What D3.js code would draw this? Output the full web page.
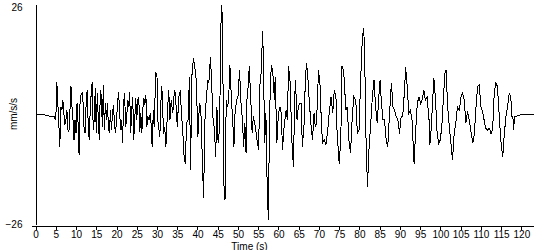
<!DOCTYPE html>
<html>
<head>
<meta charset="utf-8">
<script src="https://cdn.jsdelivr.net/npm/d3@7"></script>
<style>
  body { margin: 0; background: #fff; }
  text { font-family: "Liberation Sans", Arial, sans-serif; font-size: 10px; fill: #000; }
</style>
</head>
<body>
<div class="trace"></div>
<script>
// seconds
var time = [
  0, 1, 2, 2.5, 4.6,
  5, 5.25, 5.5, 5.75, 6, 6.25, 6.5, 6.75, 7, 7.25, 7.5, 7.75, 8, 8.25, 8.5, 8.75,
  9, 9.25, 9.5, 9.75, 10, 10.25, 10.5, 10.75, 11, 11.25, 11.5, 11.75, 12, 12.25, 12.5, 12.75,
  13, 13.25, 13.5, 13.75, 14, 14.25, 14.5, 14.75, 15, 15.25, 15.5, 15.75, 16, 16.25, 16.5, 16.75,
  17, 17.25, 17.5, 17.75, 18, 18.25, 18.5, 18.75, 19, 19.25, 19.5, 19.75, 20, 20.25, 20.5, 20.75,
  21, 21.25, 21.5, 21.75, 22, 22.25, 22.5, 22.75, 23, 23.25, 23.5, 23.75, 24, 24.25, 24.5, 24.75,
  25, 25.25, 25.5, 25.75, 26, 26.25, 26.5, 26.75, 27, 27.25, 27.5, 27.75, 28,
  28.4, 28.8, 29.1, 29.3, 29.7, 30, 30.2, 30.7, 31.1, 31.3, 31.6, 31.9, 32.2, 32.6, 32.9,
  33.2, 33.5, 33.9, 34.2, 34.4, 34.8, 35, 35.4, 35.8, 36, 36.3, 36.7, 37, 37.3, 37.7,
  38, 38.3, 38.6, 39, 39.3, 39.7, 40.1, 40.5, 40.8, 41.1, 41.5, 41.9, 42.2, 42.5, 42.8,
  43.2, 43.5, 43.8, 44.2, 44.5, 44.8, 45.1, 45.5, 45.7, 46, 46.2, 46.5, 46.8, 47.1, 47.4,
  47.7, 48, 48.4, 48.7, 49, 49.3, 49.7, 50, 50.4, 50.7, 51.1, 51.4, 51.7, 52, 52.2,
  52.4, 52.8, 53.2, 53.5, 53.8, 54.3, 54.6, 55.1, 55.4, 55.7, 56.1, 56.3, 56.6, 56.9, 57.2,
  57.5, 57.7, 58, 58.3, 58.7, 59, 59.2, 59.6, 60, 60.4, 60.7, 61, 61.4, 61.9, 62.2,
  62.5, 62.9, 63.3, 63.7, 64, 64.2, 64.6, 64.9, 65.3, 65.6, 65.9, 66.3, 66.6, 66.9, 67.2,
  67.6, 68, 68.4, 68.8, 69.1, 69.4, 69.9, 70.3, 70.6, 70.9, 71.3, 71.7, 72.1, 72.6, 73,
  73.4, 73.8, 74.2, 74.5, 75, 75.4, 75.7, 76, 76.3, 76.6, 77, 77.4, 77.8, 78.2, 78.6,
  79.1, 79.5, 79.9, 80.3, 80.7, 81, 81.3, 81.5, 81.8, 82, 82.3, 82.8, 83.2, 83.6, 84,
  84.4, 84.8, 85.1, 85.4, 85.8, 86.2, 86.6, 87, 87.4, 87.9, 88.3, 88.7, 89.1, 89.5, 89.9,
  90.3, 90.7, 91.2, 91.4, 91.8, 92.2, 92.6, 93, 93.5, 93.9, 94.3, 94.7, 95.1, 95.5, 95.9,
  96.3, 96.7, 97.2, 97.4, 97.7, 98.1, 98.4, 98.8, 99.2, 99.6, 100, 100.4, 100.8, 101.2, 101.4,
  101.8, 102.2, 102.6, 103, 103.4, 103.8, 104.2, 104.7, 105.1, 105.5, 105.9, 106.3, 106.7, 107.1, 107.5,
  108, 108.4, 108.8, 109.2, 109.6, 110, 110.4, 110.8, 111.2, 111.6, 112.1, 112.5, 112.9, 113.3, 113.7,
  114.1, 114.5, 114.9, 115.4, 115.8, 116.2, 116.6, 117, 117.4, 117.6, 117.9, 118.1, 118.3, 118.9, 119.8,
  121, 123
];

// mm/s/s
var accel = [
  0, 0, 0, -0.4, -0.6,
  -1.5, 7.6, 2.5, -2.2, -7.7, 1.7, 0.9, 3.3, 0.2, -2.6, -1.4, 0.9, -3.8, -4.2, 0.9, 6.5,
  1.7, -1.4, -6.1, -1.4, -4.6, 2.5, -2.2, -9.7, 3.3, 4.5, 4.9, 2.5, -3.8, -4.6, 2.5, 5.7,
  -2.2, -6.1, 0.9, 4.9, 7.6, -3.8, -1.4, 6.1, -4.6, 4.9, -1.4, -6.1, 5.7, 4.1, -3.0, 6.9,
  -3.8, 2.5, -1.4, 2.5, -3.0, -4.6, 0.9, -3.8, 0.2, 2.1, -2.2, -4.6, -1.4, 2.5, 5.3, 0.9,
  -3.8, -1.4, -6.9, 2.5, 4.9, -3.0, -1.4, 3.3, 1.7, 5.3, -4.6, 0.9, 4.1, -6.1, -1.4, 3.7,
  -1.4, 3.3, 4.1, -4.2, 0.2, -4.6, 1.3, 3.7, 2.1, 4.5, -3.0, -0.6, -1.4,
  0.2, -7.7, 0.9, -3.0, 10.0, 8.8, -1.4, -5.4, 6.5, 4.9, -4.6, -3.0, -7.7, 0.9, 5.7,
  -1.4, 3.3, 0.2, 4.1, 5.7, 0.9, -3.0, 4.1, 5.7, 0.2, -3.0, -10.1, -11.7, -2.2, -1.4,
  8.8, -13.2, 8.8, 13.2, 11.3, 8.0, -5.4, 2.5, 1.7, -7.7, -19.9, 0.9, 3.3, 8.0, 7.3,
  13.5, 7.3, -0.6, -3.8, -10.1, 1.7, -6.9, -3.0, 19.1, 25.8, 19.9, -16.4, -20.3, 3.3, 1.7,
  3.3, 11.6, 3.3, -1.4, -7.7, 0.9, 3.3, 4.1, 10.4, 3.3, -1.4, -7.7, -2.2, -9.3, 3.3,
  4.9, 11.3, 2.5, -4.6, -0.6, -3.0, -5.4, -8.5, 6.5, 9.6, 19.5, 11.3, -6.9, 0.2, -16.4,
  -25.0, -9.3, 8.0, 11.5, 8.8, 3.3, 8.8, -6.9, 0.2, 1.7, 0.2, -8.5, -3.0, 0.9, -1.4,
  11.3, 7.3, -6.1, -12.5, 3.3, 8.0, -1.4, 1.7, 2.5, 2.5, -7.7, -3.0, 6.5, 12.0, 9.6,
  3.3, -2.2, -6.1, 0.2, -3.0, -2.2, 10.4, 6.5, -2.2, -6.9, -6.1, -7.3, -4.6, 0.9, 4.1,
  0.2, 5.7, 4.1, -4.6, -11.7, -6.1, 11.3, 10.4, 8.0, 0.9, 1.7, -6.1, -9.3, -1.4, 4.1,
  3.3, -4.6, -3.8, 8.0, 17.5, 20.3, 15.9, -1.4, -11.7, -17.2, -9.3, -2.2, 4.1, 8.0, 1.7,
  -2.2, 4.1, 8.0, 3.3, -1.4, -1.4, -6.1, -7.7, -0.6, 7.3, 1.7, 0.9, -0.6, -1.4, -4.6,
  -0.6, -0.6, 6.5, 11.2, 6.5, 0.2, 0.9, -1.4, -11.7, -3.8, 2.5, 4.1, 2.5, 3.3, 5.7,
  3.3, 4.1, -1.4, -7.3, -3.8, 3.3, 8.4, 3.3, -4.6, -6.9, -6.1, -2.2, 4.9, 10.4, 10.4,
  1.7, -3.0, -6.9, -10.9, -4.6, -2.2, 1.7, 0.9, 4.1, 4.9, 3.3, -2.2, 0.6, -1.4, -3.8,
  -6.9, -4.6, 1.7, 6.5, 6.9, 1.7, 0.6, -1.4, -3.4, -3.8, -3.4, -4.6, -3.8, 4.9, 7.3,
  6.5, 0.2, -6.1, -10.1, -4.6, -0.6, 1.7, 4.9, 4.1, -0.6, -0.6, -3.8, -0.6, -0.5, -0.2,
  0, 0
];

var xTicks = d3.range(0, 121, 5);
var yTicks = [-26, 26];

var width = 550, height = 250;

var x = d3.scaleLinear().domain([-1, 123]).range([31.5, 533.5]);
var y = d3.scaleLinear().domain([-26, 26]).range([224, 4]);

var svg = d3.select('.trace').append('svg')
  .attr('width', width)
  .attr('height', height);

var points = time.map(function(t, i){ return [t, accel[i]]; });

var line = d3.line()
  .x(function(d){ return x(d[0]); })
  .y(function(d){ return y(d[1]); });

svg.append('path')
  .datum(points)
  .attr('d', line)
  .attr('fill', 'none')
  .attr('stroke', '#000')
  .attr('stroke-width', 1)
  .attr('shape-rendering', 'crispEdges');

// axes
var xAxis = svg.append('g')
  .attr('transform', 'translate(0,225.5)')
  .call(d3.axisBottom(x).tickValues(xTicks).tickSize(4).tickSizeOuter(0).tickPadding(1));

var yAxis = svg.append('g')
  .attr('transform', 'translate(35.5,0)')
  .call(d3.axisLeft(y).tickValues(yTicks).tickSize(0).tickPadding(13));

[xAxis, yAxis].forEach(function(g){
  g.selectAll('path, line').attr('stroke', '#000').attr('shape-rendering', 'crispEdges');
  g.selectAll('text').attr('fill', '#000');
  g.attr('font-family', null).attr('font-size', null);
});

// nudge the top label down a little like the original
yAxis.selectAll('.tick text').filter(function(d){ return d == 26; }).attr('dy', '0.62em');

svg.append('text')
  .attr('x', 249.5)
  .attr('y', 249.5)
  .attr('text-anchor', 'middle')
  .text('Time (s)');

svg.append('text')
  .attr('transform', 'translate(17,114) rotate(-90)')
  .attr('text-anchor', 'middle')
  .text('mm/s/s');
</script>
</body>
</html>
